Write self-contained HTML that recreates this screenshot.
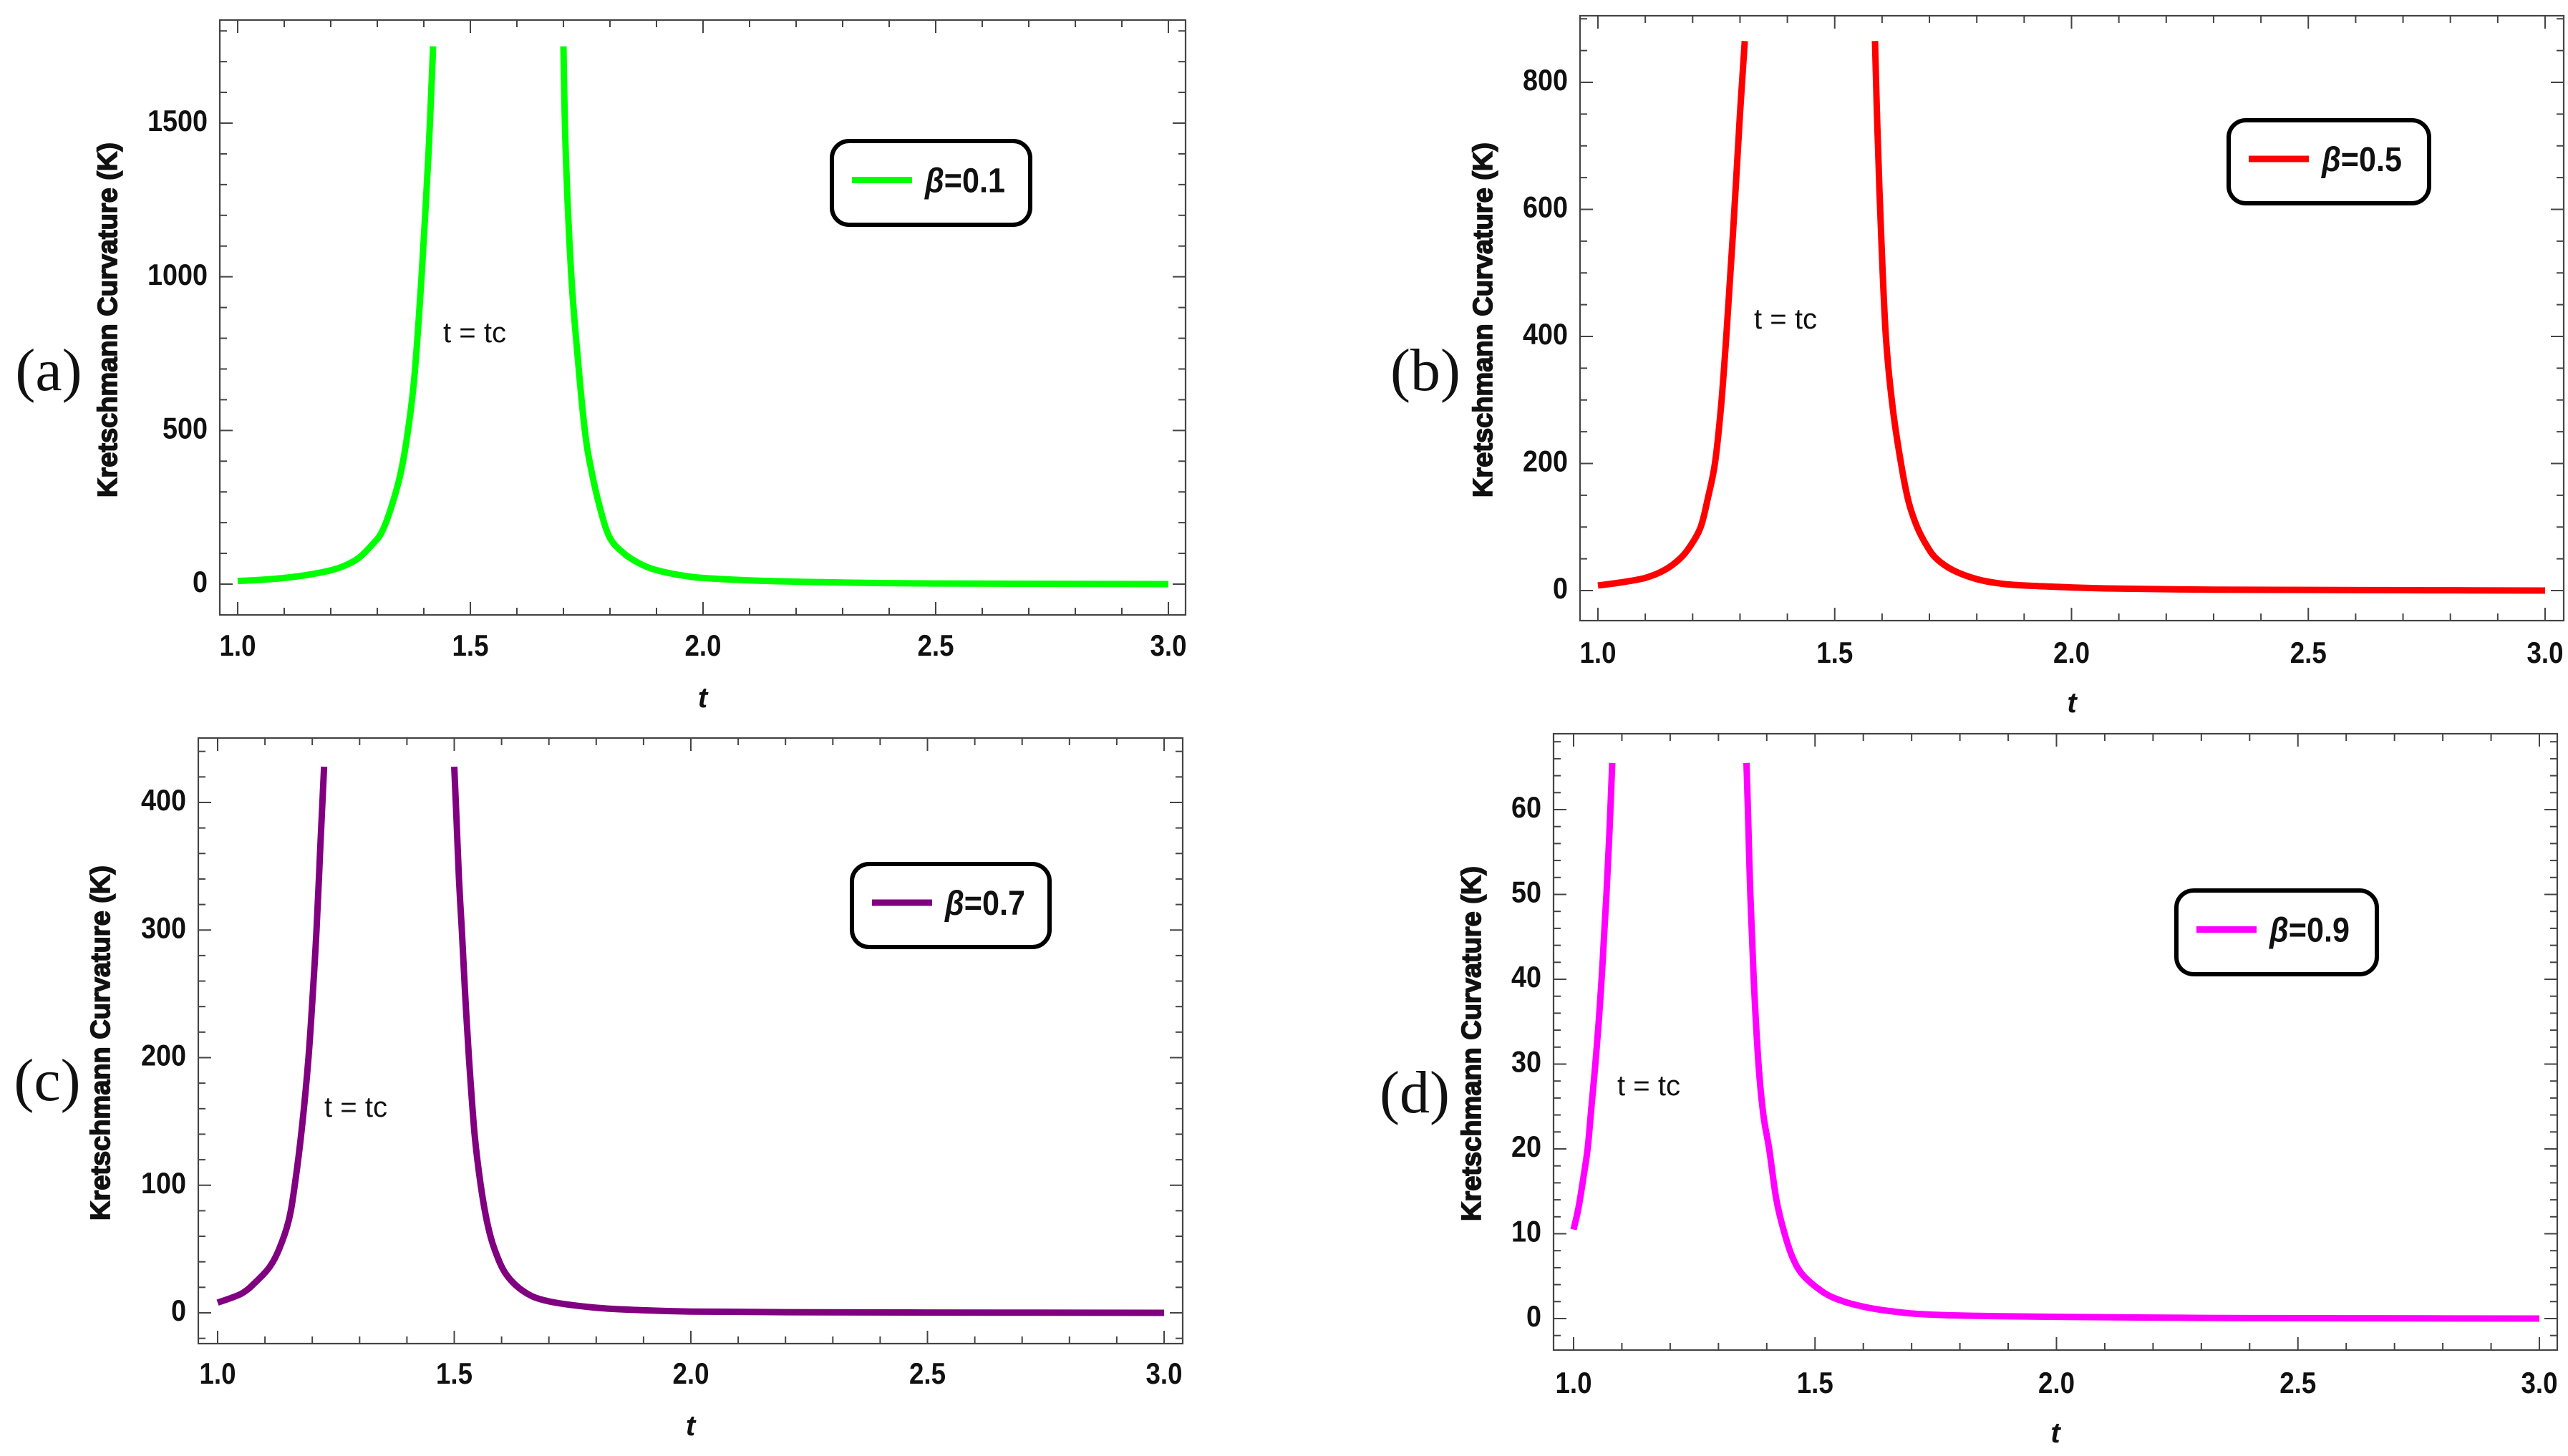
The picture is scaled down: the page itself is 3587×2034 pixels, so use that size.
<!DOCTYPE html>
<html><head><meta charset="utf-8"><title>Kretschmann Curvature</title>
<style>
html,body{margin:0;padding:0;background:#fff;}
svg{display:block;}
.tick{font-family:"Liberation Sans Narrow","Liberation Sans",sans-serif;font-weight:bold;font-size:42px;fill:#111;}
.ytitle{font-family:"Liberation Sans",sans-serif;font-weight:bold;font-size:38px;fill:#111;stroke:#111;stroke-width:1.6;}
.plab{font-family:"Liberation Serif",serif;font-size:84px;fill:#111;}
.tc{font-family:"Liberation Sans Narrow","Liberation Sans",sans-serif;font-size:40px;fill:#111;}
.leg{font-family:"Liberation Sans Narrow","Liberation Sans",sans-serif;font-weight:bold;font-size:48px;fill:#111;}
.xt{font-family:"Liberation Sans",sans-serif;font-weight:bold;font-style:italic;font-size:40px;fill:#111;}
</style></head>
<body>
<svg id="fig" xmlns="http://www.w3.org/2000/svg" width="3587" height="2034" viewBox="0 0 3587 2034"></svg>
<script>
// ---- data ----
const tA = [1.0,1.05,1.1,1.15,1.2,1.23,1.26,1.29,1.31,1.33,1.35,1.366,1.38,1.395,1.41,1.42];
const kA = [10,14,20,30,45,60,85,130,170,250,360,500,680,1000,1400,1750];
const tA2 = [1.70,1.705,1.717,1.73,1.746,1.76,1.78,1.80,1.83,1.86,1.89,1.93,1.97,2.0,2.1,2.2,2.35,2.5,2.75,3.0];
const kA2 = [1750,1400,1000,750,500,370,240,150,100,70,50,35,25,20,12,8,4,2,1,0];

const tB = [1.0,1.05,1.1,1.14,1.173,1.195,1.217,1.232,1.247,1.26,1.271,1.285,1.30,1.31];
const kB = [8,13,20,32,50,70,100,145,200,290,400,560,750,865];
const tB2 = [1.585,1.59,1.598,1.608,1.622,1.64,1.656,1.674,1.695,1.715,1.75,1.8,1.85,1.9,2.0,2.1,2.3,2.5,2.75,3.0];
const kB2 = [865,730,560,400,290,200,140,100,70,50,32,18,11,8,5,3,1.5,1,0.5,0];

const tC = [1.0,1.05,1.08,1.11,1.13,1.15,1.163,1.178,1.192,1.201,1.209,1.217,1.225];
const kC = [8,15,24,36,50,72,100,145,200,250,300,365,428];
const tC2 = [1.50,1.505,1.51,1.516,1.523,1.531,1.543,1.556,1.57,1.585,1.61,1.65,1.7,1.8,1.9,2.0,2.2,2.5,3.0];
const kC2 = [428,385,340,300,250,200,140,100,70,50,30,16,9,4,2,1,0.5,0.2,0];

const tD = [1.0,1.01,1.02,1.029,1.037,1.045,1.052,1.058,1.063,1.068,1.074,1.08];
const kD = [10.5,13,16.5,20,25,30,35,40,45,50,57,65.5];
const tD2 = [1.358,1.361,1.366,1.373,1.383,1.393,1.405,1.42,1.437,1.455,1.477,1.52,1.56,1.6,1.64,1.7,1.75,1.85,2.0,2.3,2.6,3.0];
const kD2 = [65.5,60,50,40,30,24,20,14,10,7,5,3,2,1.4,1,0.6,0.45,0.3,0.2,0.08,0.03,0];

const legendLabels = ["β=0.1","β=0.5","β=0.7","β=0.9"];
const panelLetters = ["(a)","(b)","(c)","(d)"];
const xTickLabels = ["1.0","1.5","2.0","2.5","3.0"];
const xTickValues = [1.0,1.5,2.0,2.5,3.0];
const yTicksA = [0,500,1000,1500];
const yTicksB = [0,200,400,600,800];
const yTicksC = [0,100,200,300,400];
const yTicksD = [0,10,20,30,40,50,60];

// ---- layout ----
const panels = [
 {id:"a", col:"#00ff00", fr:[307,28,1656,859], x0:332, x3:1632, y0:816, yv:1500, yvPix:172, yt:yTicksA, minor:100,
  b1:[tA,kA], b2:[tA2,kA2], lab:[68,545], ytx:153, yty:447, lg:[1162,197,1439,314], tc:[619,478], xly:905, tly:988},
 {id:"b", col:"#ff0000", fr:[2207,22,3581,867], x0:2232, x3:3555, y0:825, yv:800, yvPix:115, yt:yTicksB, minor:50,
  b1:[tB,kB], b2:[tB2,kB2], lab:[1991,545], ytx:2074, yty:447, lg:[3113,168,3393,284], tc:[2450,459], xly:915, tly:995},
 {id:"c", col:"#800080", fr:[277,1031,1652,1877], x0:304, x3:1626, y0:1834, yv:400, yvPix:1121, yt:yTicksC, minor:20,
  b1:[tC,kC], b2:[tC2,kC2], lab:[66,1537], ytx:143, yty:1457, lg:[1190,1207,1466,1323], tc:[453,1560], xly:1922, tly:2005},
 {id:"d", col:"#ff00ff", fr:[2170,1025,3572,1886], x0:2198, x3:3547, y0:1842, yv:60, yvPix:1131, yt:yTicksD, minor:2,
  b1:[tD,kD], b2:[tD2,kD2], lab:[1976,1554], ytx:2058, yty:1458, lg:[3040,1244,3320,1361], tc:[2259,1530], xly:1935, tly:2015}
];

const NS = "http://www.w3.org/2000/svg";
const svg = document.getElementById("fig");
function mk(tag, attrs, parent){
  const e = document.createElementNS(NS, tag);
  for (const k in attrs) e.setAttribute(k, attrs[k]);
  (parent||svg).appendChild(e);
  return e;
}
function labelWidth(s){
  let w = 0;
  for (const c of s) w += (c === '.') ? 9 : 21;
  return w;
}
function smoothPath(P){
  let d = "M" + P[0][0].toFixed(1) + "," + P[0][1].toFixed(1);
  for (let i = 0; i < P.length - 1; i++) {
    const p0 = P[Math.max(0, i-1)], p1 = P[i], p2 = P[i+1], p3 = P[Math.min(P.length-1, i+2)];
    const c1x = p1[0] + (p2[0]-p0[0])/6, c1y = p1[1] + (p2[1]-p0[1])/6;
    const c2x = p2[0] - (p3[0]-p1[0])/6, c2y = p2[1] - (p3[1]-p1[1])/6;
    d += " C" + c1x.toFixed(1) + "," + c1y.toFixed(1) + " " + c2x.toFixed(1) + "," + c2y.toFixed(1) + " " + p2[0].toFixed(1) + "," + p2[1].toFixed(1);
  }
  return d;
}

panels.forEach((p, i) => {
  const g = mk("g", {});
  
  
  const xs = t => p.x0 + (t - 1.0) / 2.0 * (p.x3 - p.x0);
  const ys = v => p.y0 - v / p.yv * (p.y0 - p.yvPix);
  const [L, T, R, B] = p.fr;

  const fr = mk("rect", {x:L, y:T, width:R-L, height:B-T, fill:"none", stroke:"#444", "stroke-width":2.2}, g);
  
  

  for (let k = 0; k <= 20; k++) {
    const x = xs(1.0 + k * 0.1);
    const len = (k % 5 === 0) ? 18 : 10;
    mk("line", {x1:x, y1:B, x2:x, y2:B-len, stroke:"#444", "stroke-width":2}, g);
    mk("line", {x1:x, y1:T, x2:x, y2:T+len, stroke:"#444", "stroke-width":2}, g);
  }
  xTickValues.forEach((v, j) => {
    const s = xTickLabels[j];
    const tx = mk("text", {x:xs(v), y:p.xly, "text-anchor":"middle", class:"tick", "dominant-baseline":"middle", textLength:labelWidth(s), lengthAdjust:"spacingAndGlyphs"}, g);
    tx.textContent = s;
    
    
  });

  const vmin = (p.y0 - B) / (p.y0 - p.yvPix) * p.yv;
  const vmax = (p.y0 - T) / (p.y0 - p.yvPix) * p.yv;
  const majorStep = p.yt[1] - p.yt[0];
  for (let v = Math.ceil(vmin / p.minor) * p.minor; v <= vmax; v += p.minor) {
    const y = ys(v);
    const major = Math.abs(v / majorStep - Math.round(v / majorStep)) < 1e-6;
    const len = major ? 18 : 10;
    mk("line", {x1:L, y1:y, x2:L+len, y2:y, stroke:"#444", "stroke-width":2}, g);
    mk("line", {x1:R, y1:y, x2:R-len, y2:y, stroke:"#444", "stroke-width":2}, g);
  }
  p.yt.forEach(v => {
    const s = String(v);
    const ty = mk("text", {x:L-17, y:ys(v), "text-anchor":"end", class:"tick", "dominant-baseline":"middle", textLength:labelWidth(s), lengthAdjust:"spacingAndGlyphs"}, g);
    ty.textContent = s;
    
    
  });

  [p.b1, p.b2].forEach((br, bi) => {
    const P = br[0].map((t, j) => [xs(t), ys(br[1][j])]);
    const pl = mk("path", {d:smoothPath(P), fill:"none", stroke:p.col, "stroke-width":9, "stroke-linejoin":"round"}, g);
    
    
  });

  const yt = mk("text", {x:p.ytx, y:p.yty, class:"ytitle", "text-anchor":"middle", "dominant-baseline":"middle",
    transform:"rotate(-90 " + p.ytx + " " + p.yty + ")", textLength:496, lengthAdjust:"spacingAndGlyphs"}, g);
  yt.textContent = "Kretschmann Curvature (K)";
  
  

  const xt = mk("text", {x:(L+R)/2, y:p.tly, class:"xt", "text-anchor":"middle"}, g);
  xt.textContent = "t";
  
  

  const pl = mk("text", {x:p.lab[0], y:p.lab[1], class:"plab", "text-anchor":"middle"}, g);
  pl.textContent = panelLetters[i];
  
  

  const tc = mk("text", {x:p.tc[0], y:p.tc[1], class:"tc", textLength:88, lengthAdjust:"spacingAndGlyphs"}, g);
  tc.textContent = "t = tc";
  
  

  const [lx1, ly1, lx2, ly2] = p.lg;
  const lgG = mk("g", {}, g);
  
  
  mk("rect", {x:lx1, y:ly1, width:lx2-lx1, height:ly2-ly1, rx:24, ry:24, fill:"#fff", stroke:"#000", "stroke-width":6}, lgG);
  const cy = (ly1 + ly2) / 2 - 4;
  const ll = mk("line", {x1:lx1+28, y1:cy, x2:lx1+112, y2:cy, stroke:p.col, "stroke-width":9}, lgG);
  
  
  const lt = mk("text", {x:lx1+130, y:cy+17, class:"leg", textLength:112, lengthAdjust:"spacingAndGlyphs"}, lgG);
  lt.innerHTML = '<tspan font-style="italic">β</tspan>' + legendLabels[i].slice(1);
  
  
});
</script>
</body></html>
